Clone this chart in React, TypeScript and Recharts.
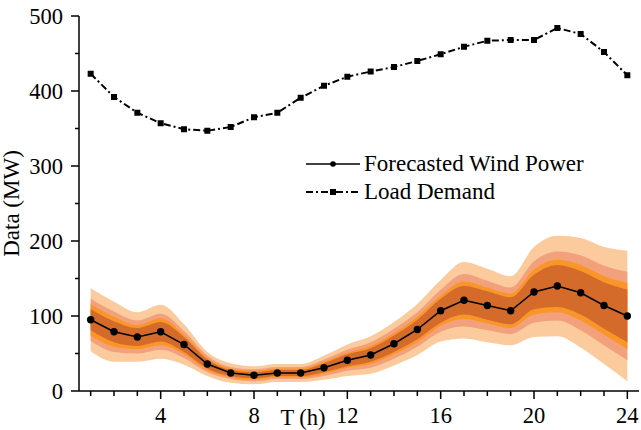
import React from 'react';
import { ComposedChart, Area, Line, XAxis, YAxis, Legend } from 'recharts';

const hours = [1, 2, 3, 4, 5, 6, 7, 8, 9, 10, 11, 12, 13, 14, 15, 16, 17, 18, 19, 20, 21, 22, 23, 24];
const forecastedWind = [95, 79, 72, 79, 62, 36, 24, 21, 24, 24, 31, 41, 48, 63, 82, 107, 121, 114, 107, 132, 140, 131, 114, 100];
const loadDemand = [423, 392, 371, 357, 349, 347, 352, 365, 371, 391, 407, 419, 426, 432, 440, 449, 459, 467, 468, 468, 484, 476, 452, 421];
// half-widths of the uncertainty bands (outermost to innermost)
const outerW = [42, 40, 33, 36, 27, 16, 13, 12, 12, 12, 16, 21, 25, 29, 34, 41, 51, 49, 46, 60, 67, 73, 78, 87];
const salmonW = [28, 27, 22, 24, 18, 11, 8, 8, 8, 8, 11, 14, 17, 20, 23, 28, 35, 33, 31, 41, 46, 50, 53, 59];
const orangeW = [21, 20, 16, 18, 13, 8, 6, 6, 6, 6, 8, 10, 12, 14, 17, 20, 25, 24, 23, 30, 35, 37, 39, 44];
const darkW = [14, 14, 12, 13, 10, 6, 4, 4, 4, 4, 6, 8, 9, 11, 13, 16, 19, 19, 18, 23, 28, 29, 31, 35];

const xTicks = hours;
const yTicks = [0, 50, 100, 150, 200, 250, 300, 350, 400, 450, 500];

const FONT = '"Liberation Serif", "Times New Roman", Times, serif';

const data = hours.map((t, i) => ({
  t,
  wind: forecastedWind[i],
  load: loadDemand[i],
  b1: [forecastedWind[i] - outerW[i], forecastedWind[i] + outerW[i]],
  b2: [forecastedWind[i] - salmonW[i], forecastedWind[i] + salmonW[i]],
  b3: [forecastedWind[i] - orangeW[i], forecastedWind[i] + orangeW[i]],
  b4: [forecastedWind[i] - darkW[i], forecastedWind[i] + darkW[i]],
}));

const XTick = (props: any) => {
  const { x, y, payload } = props;
  const major = payload.value % 4 === 0;
  return (
    <g>
      <line x1={x} x2={x} y1={y} y2={y + (major ? 8 : 5)} stroke="#000" strokeWidth={1.5} />
      {major && (
        <text x={x} y={y + 32} textAnchor="middle" fontFamily={FONT} fontSize={22.5} fill="#000">
          {payload.value}
        </text>
      )}
    </g>
  );
};

const YTick = (props: any) => {
  const { x, y, payload } = props;
  const major = payload.value % 100 === 0;
  return (
    <g>
      <line x1={x} x2={x - (major ? 8 : 4)} y1={y} y2={y} stroke="#000" strokeWidth={1.5} />
      {major && (
        <text x={x - 16} y={y + 7.5} textAnchor="end" fontFamily={FONT} fontSize={22.5} fill="#000">
          {payload.value}
        </text>
      )}
    </g>
  );
};

const SquareDot = (props: any) => {
  const { cx, cy, index } = props;
  if (cx == null || cy == null) return <g key={`sq-${index}`} />;
  return <rect key={`sq-${index}`} x={cx - 3} y={cy - 3} width={6} height={6} fill="#000" />;
};

const renderLegend = () => (
  <div style={{ fontFamily: FONT, fontSize: 23, color: '#000', lineHeight: '28px' }}>
    <div style={{ display: 'flex', alignItems: 'center', height: 28 }}>
      <svg width={56} height={28}>
        <line x1={1} y1={14} x2={55} y2={14} stroke="#000" strokeWidth={1.5} />
        <circle cx={28} cy={14} r={2.8} fill="#000" />
      </svg>
      <span style={{ marginLeft: 3, whiteSpace: 'nowrap' }}>Forecasted Wind Power</span>
    </div>
    <div style={{ display: 'flex', alignItems: 'center', height: 28 }}>
      <svg width={56} height={28}>
        <line x1={1} y1={14} x2={55} y2={14} stroke="#000" strokeWidth={2} strokeDasharray="7 3 2 3" />
        <rect x={25} y={11} width={6} height={6} fill="#000" />
      </svg>
      <span style={{ marginLeft: 3, whiteSpace: 'nowrap' }}>Load Demand</span>
    </div>
  </div>
);

export default function App() {
  return (
    <div style={{ position: 'absolute', left: 0, top: 0, width: 641, height: 430, background: '#fff' }}>
      <ComposedChart width={641} height={430} data={data} margin={{ top: 16, right: 2, bottom: 0, left: 0 }}>
        <XAxis
          dataKey="t"
          type="number"
          domain={[0.5, 24.5]}
          ticks={xTicks}
          interval={0}
          tick={XTick}
          tickLine={false}
          tickSize={0}
          tickMargin={0}
          height={39}
          axisLine={{ stroke: '#000', strokeWidth: 1.5 }}
          allowDataOverflow
          label={{ value: 'T (h)', position: 'insideBottom', offset: 5, dx: -56, style: { fontFamily: FONT, fontSize: 22.5, fill: '#000' } }}
        />
        <YAxis
          type="number"
          domain={[0, 500]}
          ticks={yTicks}
          interval={0}
          tick={YTick}
          tickLine={false}
          tickSize={0}
          tickMargin={0}
          width={79}
          axisLine={{ stroke: '#000', strokeWidth: 1.5 }}
          allowDataOverflow
          label={{ value: 'Data (MW)', angle: -90, position: 'center', dx: -28.5, style: { fontFamily: FONT, fontSize: 23, fill: '#000' } }}
        />
        <Legend
          layout="vertical"
          align="center"
          verticalAlign="middle"
          content={renderLegend}
          wrapperStyle={{ left: 305, top: 150, width: 300 }}
        />
        <Area dataKey="b1" type="monotone" stroke="none" fill="#FBCB9D" fillOpacity={1} isAnimationActive={false} dot={false} activeDot={false} legendType="none" />
        <Area dataKey="b2" type="monotone" stroke="none" fill="#F3A07C" fillOpacity={1} isAnimationActive={false} dot={false} activeDot={false} legendType="none" />
        <Area dataKey="b3" type="monotone" stroke="none" fill="#F99629" fillOpacity={1} isAnimationActive={false} dot={false} activeDot={false} legendType="none" />
        <Area dataKey="b4" type="monotone" stroke="none" fill="#D56B2A" fillOpacity={1} isAnimationActive={false} dot={false} activeDot={false} legendType="none" />
        <Line dataKey="wind" type="linear" stroke="#000" strokeWidth={1.5} dot={{ r: 3.7, fill: '#000', stroke: '#000', strokeWidth: 0 }} activeDot={false} isAnimationActive={false} />
        <Line dataKey="load" type="linear" stroke="#000" strokeWidth={2} strokeDasharray="7 3 2 3" dot={SquareDot} activeDot={false} isAnimationActive={false} />
      </ComposedChart>
    </div>
  );
}
